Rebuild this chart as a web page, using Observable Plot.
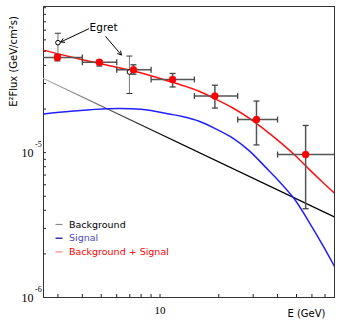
<!DOCTYPE html>
<html><head><meta charset="utf-8">
<script src="https://cdn.jsdelivr.net/npm/d3@7"></script>
<script src="https://cdn.jsdelivr.net/npm/@observablehq/plot@0.6"></script>
<style>body{margin:0;background:#fff} svg{display:block}</style>
</head><body><div id="chart"></div>
<script>
// Model curves (E in GeV, E^2 Flux in GeV/cm^2 s)
const sigE = [2.53, 3.5, 5.37, 7.96, 11.36, 13.03, 15.85, 19.3, 23.5, 28.6, 34.8, 39.2, 48.7, 58.1, 68.1, 78.3];
const sigF = [1.85e-5, 1.93e-5, 2.01e-5, 1.99e-5, 1.84e-5, 1.774e-5, 1.646e-5, 1.459e-5, 1.264e-5, 1.032e-5, 7.91e-6, 6.7e-6, 4.8e-6, 3.3e-6, 2.3e-6, 1.64e-6];
const bgE = [2.53, 78.3];
const bgF = [3.25e-5, 3.6e-6];
const totE = [2.53, 3.5, 5.37, 7.96, 11.36, 13.03, 15.85, 19.3, 23.5, 28.6, 34.8, 39.2, 48.7, 58.1, 68.1, 78.3];
const totF = [5.1e-5, 4.57e-5, 4.01e-5, 3.56e-5, 3.08e-5, 2.91e-5, 2.65e-5, 2.34e-5, 2.04e-5, 1.73e-5, 1.42e-5, 1.25e-5, 9.7e-6, 7.66e-6, 6.24e-6, 5.24e-6];

// Data points with errors
const ptE   = [2.98, 4.89, 7.31, 11.6, 19.1, 31.2, 55.7];
const ptF   = [4.54e-5, 4.2e-5, 3.73e-5, 3.2e-5, 2.46e-5, 1.69e-5, 9.7e-6];
const ptElo = [2.0, 4, 6, 9, 15, 25, 40];
const ptEhi = [4, 6, 9, 15, 25, 40, 100];
const ptFlo = [4.3e-5, 3.96e-5, 3.48e-5, 2.84e-5, 2.03e-5, 1.13e-5, 4.1e-6];
const ptFhi = [4.76e-5, 4.35e-5, 4.04e-5, 3.52e-5, 2.92e-5, 2.27e-5, 1.54e-5];

// EGRET points
const egE   = [3.0, 6.97];
const egF   = [5.74e-5, 3.6e-5];
const egFlo = [4.7e-5, 2.56e-5];
const egFhi = [6.67e-5, 4.64e-5];

// Annotation
const noteText = "Egret";
const noteE = 5.14, noteF = 7.3e-5;
const arrE1 = [4.31, 5.27], arrF1 = [7.15e-5, 6.32e-5];
const arrE2 = [3.10, 6.34], arrF2 = [5.8e-5, 4.72e-5];

// Axes
const xDomain = [2.53, 78.3];
const yDomain = [1e-6, 1.02e-4];
const xTicks = [3,4,5,6,7,8,9,10,20,30,40,50,60,70];
const yTicks = [1e-6,2e-6,3e-6,4e-6,5e-6,6e-6,7e-6,8e-6,9e-6,1e-5,2e-5,3e-5,4e-5,5e-5,6e-5,7e-5,8e-5,9e-5,1e-4];
const yLabelVals = [1e-5, 1e-6];
const yLabelBase = ["10", "10"];
const yLabelExp = ["-5", "-6"];
const xLabelVals = [10];
const xLabelText = ["10"];
const xTitle = "E (GeV)";
const yTitle = "E²Flux (GeV/cm²s)";

const legNames = ["Background", "Signal", "Background + Signal"];
const legLineColors = ["#888888", "#000080", "#ff8080"];
const legTextColors = ["#000000", "#4a4ac8", "#ff0000"];

const idx = a => a.map((_, i) => i);
const hCap = {draw(ctx){ ctx.moveTo(-3,0); ctx.lineTo(3,0); }};
const vCap = {draw(ctx){ ctx.moveTo(0,-3); ctx.lineTo(0,3); }};
const legLine = {draw(ctx){ ctx.moveTo(-3.5,0); ctx.lineTo(3.5,0); }};

const P = idx(ptE), G = idx(egE);
const legendMarks = [];
legNames.forEach((n, i) => {
  legendMarks.push(Plot.dot([0], {frameAnchor: "top-left", dx: 15.5, dy: 218 + i*13.7, symbol: legLine, stroke: legLineColors[i], fill: "none", strokeWidth: 1.2}));
  legendMarks.push(Plot.text([n], {frameAnchor: "top-left", dx: 25.5, dy: 218 + i*13.7, textAnchor: "start", lineAnchor: "middle", fill: legTextColors[i], fontSize: 9.5}));
});

const svg = Plot.plot({
  width: 341, height: 327,
  marginLeft: 43, marginRight: 7, marginTop: 6, marginBottom: 30,
  x: {type: "log", domain: xDomain},
  y: {type: "log", domain: yDomain},
  style: {fontFamily: "DejaVu Sans", background: "white", color: "#000"},
  marks: [
    Plot.axisY(yTicks, {anchor: "left", tickSize: 3, dx: 3, tickFormat: () => "", label: null, stroke: "#222"}),
    Plot.axisX(xTicks, {anchor: "bottom", tickSize: 3, dy: -3, tickFormat: () => "", label: null, stroke: "#222"}),
    Plot.frame({stroke: "#333"}),
    // curves
    Plot.line(idx(bgE), {x: i => bgE[i], y: i => bgF[i], stroke: "url(#bggrad)", strokeWidth: 1.3, clip: true}),
    Plot.line(idx(sigE), {x: i => sigE[i], y: i => sigF[i], stroke: "#2020ff", strokeWidth: 1.5, curve: "catmull-rom", clip: true}),
    Plot.line(idx(totE), {x: i => totE[i], y: i => totF[i], stroke: "#ff1010", strokeWidth: 1.5, curve: "catmull-rom", clip: true}),
    // EGRET error bars
    Plot.link(G, {x1: i => egE[i], x2: i => egE[i], y1: i => egFlo[i], y2: i => egFhi[i], stroke: "#777", strokeWidth: 1}),
    Plot.dot(G, {x: i => egE[i], y: i => egFhi[i], symbol: hCap, stroke: "#333", fill: "none", strokeWidth: 1}),
    Plot.dot(G, {x: i => egE[i], y: i => egFlo[i], symbol: hCap, stroke: "#333", fill: "none", strokeWidth: 1}),
    // data error bars
    Plot.link(P, {x1: i => ptElo[i], x2: i => ptEhi[i], y1: i => ptF[i], y2: i => ptF[i], stroke: "#555", strokeWidth: 1.5, clip: true}),
    Plot.link(P, {x1: i => ptE[i], x2: i => ptE[i], y1: i => ptFlo[i], y2: i => ptFhi[i], stroke: "#555", strokeWidth: 1.5, clip: true}),
    Plot.dot(P, {x: i => ptElo[i], y: i => ptF[i], symbol: vCap, stroke: "#444", fill: "none", strokeWidth: 1.3, clip: true}),
    Plot.dot(P, {x: i => ptEhi[i], y: i => ptF[i], symbol: vCap, stroke: "#444", fill: "none", strokeWidth: 1.3, clip: true}),
    Plot.dot(P, {x: i => ptE[i], y: i => ptFlo[i], symbol: hCap, stroke: "#444", fill: "none", strokeWidth: 1.3, clip: true}),
    Plot.dot(P, {x: i => ptE[i], y: i => ptFhi[i], symbol: hCap, stroke: "#444", fill: "none", strokeWidth: 1.3, clip: true}),
    // points
    Plot.dot(G, {x: i => egE[i], y: i => egF[i], r: 2.3, fill: "white", stroke: "#000", strokeWidth: 1}),
    Plot.dot(P, {x: i => ptE[i], y: i => ptF[i], r: 3.5, fill: "#ff0000", stroke: "#ff0000", strokeWidth: 0.5}),
    // annotation
    Plot.arrow([0], {x1: arrE1[0], y1: arrF1[0], x2: arrE2[0], y2: arrF2[0], stroke: "#000", strokeWidth: 1, headLength: 6}),
    Plot.arrow([0], {x1: arrE1[1], y1: arrF1[1], x2: arrE2[1], y2: arrF2[1], stroke: "#000", strokeWidth: 1, headLength: 6}),
    Plot.text([noteText], {x: noteE, y: noteF, fontSize: 10.5, fill: "#000"}),
    // tick labels
    Plot.text(idx(yLabelVals), {x: xDomain[0], y: i => yLabelVals[i], text: i => yLabelBase[i], textAnchor: "end", dx: -10, dy: 1, fontFamily: "Liberation Serif", fontSize: 12}),
    Plot.text(idx(yLabelVals), {x: xDomain[0], y: i => yLabelVals[i], text: i => yLabelExp[i], textAnchor: "start", dx: -8.5, dy: -8, fontFamily: "Liberation Serif", fontSize: 8}),
    Plot.text(idx(xLabelVals), {x: i => xLabelVals[i], y: yDomain[0], text: i => xLabelText[i], dy: 13, fontFamily: "Liberation Serif", fontSize: 11}),
    // axis titles
    Plot.text([xTitle], {frameAnchor: "bottom-right", dx: -9, dy: 16, textAnchor: "end", lineAnchor: "middle", fontSize: 10}),
    Plot.text([yTitle], {frameAnchor: "top-left", dx: -30, dy: 55, rotate: -90, textAnchor: "middle", lineAnchor: "middle", fontSize: 10}),
    ...legendMarks
  ]
});

const defs = d3.select(svg).insert("defs", ":first-child");
const grad = defs.append("linearGradient").attr("id", "bggrad").attr("gradientUnits", "userSpaceOnUse")
  .attr("x1", 43).attr("x2", 175).attr("y1", 0).attr("y2", 0);
grad.append("stop").attr("offset", 0).attr("stop-color", "#b8b8b8");
grad.append("stop").attr("offset", 1).attr("stop-color", "#000");
document.getElementById("chart").appendChild(svg);
</script></body></html>
